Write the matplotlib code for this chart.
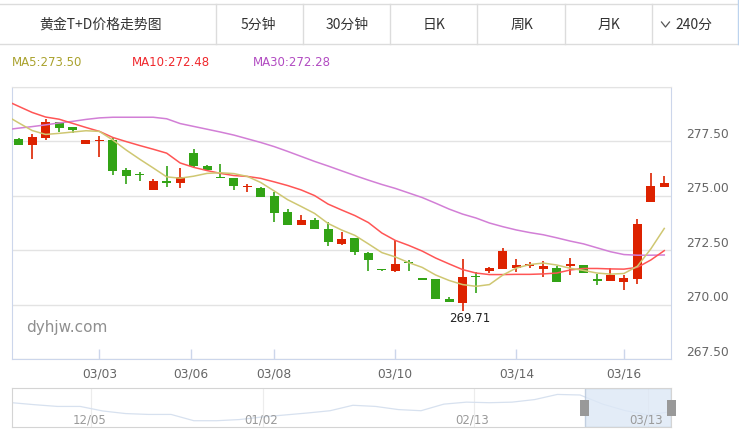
import numpy as np
import matplotlib.pyplot as plt
from matplotlib.transforms import offset_copy
from matplotlib.lines import Line2D
from matplotlib.patches import Rectangle

plt.rcParams['font.family'] = ['DejaVu Sans', 'Noto Sans CJK SC']
CJK = ['Noto Sans CJK SC', 'DejaVu Sans']

# 240分 K线: 开 / 高 / 低 / 收
opens = [277.61, 277.35, 277.67, 278.38, 278.16, 277.39, 277.52, 277.56, 276.19, 275.97,
         275.28, 275.68, 275.60, 276.97, 276.37, 275.85, 275.82, 275.39, 275.36, 274.99,
         274.26, 273.67, 273.89, 273.47, 272.80, 273.06, 272.39, 271.59, 271.56, 271.94,
         271.17, 271.18, 270.26, 270.09, 271.30, 271.56, 271.64, 271.67, 271.79, 271.64,
         271.68, 271.79, 271.81, 271.18, 271.10, 271.05, 271.19, 274.73, 275.42]
highs = [277.66, 277.83, 278.53, 278.40, 278.18, 277.57, 277.75, 277.69, 276.28, 276.11,
         275.77, 276.37, 276.28, 277.15, 276.42, 276.46, 275.83, 275.54, 275.42, 275.17,
         274.39, 274.12, 273.99, 273.78, 273.34, 273.07, 272.40, 271.60, 272.97, 272.05,
         271.17, 271.18, 270.34, 272.10, 271.48, 271.74, 272.60, 272.08, 271.98, 271.99,
         271.76, 272.13, 271.82, 271.39, 271.68, 271.36, 273.93, 276.05, 275.91]
lows = [277.33, 276.70, 277.56, 277.93, 277.90, 277.38, 276.80, 275.97, 275.56, 275.69,
        275.27, 275.42, 275.37, 276.28, 276.19, 275.80, 275.28, 275.19, 274.95, 273.81,
        273.66, 273.66, 273.48, 272.69, 272.75, 272.28, 271.56, 271.56, 271.51, 271.56,
        271.15, 270.27, 270.11, 269.71, 270.52, 271.44, 271.63, 271.51, 271.70, 271.28,
        271.04, 271.37, 271.46, 270.91, 271.09, 270.67, 270.95, 274.72, 275.41]
closes = [277.35, 277.69, 278.39, 278.13, 278.02, 277.56, 277.56, 276.15, 275.92, 275.94,
          275.68, 275.60, 275.86, 276.38, 276.20, 275.80, 275.46, 275.45, 274.96, 274.22,
          273.67, 273.89, 273.49, 272.89, 273.01, 272.43, 272.06, 271.57, 271.87, 271.91,
          271.15, 270.27, 270.11, 271.27, 271.25, 271.68, 272.46, 271.82, 271.87, 271.77,
          271.05, 271.82, 271.47, 271.07, 271.36, 271.22, 273.69, 275.45, 275.59]

# 均线 (first value belongs to the bar just left of the window)
ma5 = [278.71, 278.35, 278.00, 277.82, 277.87, 277.93, 277.99, 277.96, 277.56, 277.10,
       276.68, 276.28, 275.87, 275.81, 275.90, 276.03, 276.06, 276.02, 275.89, 275.61,
       275.22, 274.82, 274.51, 274.19, 273.73, 273.43, 273.18, 272.79, 272.39, 272.19,
       271.93, 271.71, 271.36, 271.11, 270.92, 270.84, 270.92, 271.36, 271.68, 271.84,
       271.91, 271.82, 271.67, 271.57, 271.45, 271.40, 271.43, 271.76, 272.56, 273.50]
ma10 = [279.39, 279.11, 278.83, 278.62, 278.52, 278.33, 278.14, 277.96, 277.68, 277.49,
        277.31, 277.14, 276.96, 276.51, 276.31, 276.16, 276.03, 275.93, 275.89, 275.80,
        275.64, 275.47, 275.27, 275.01, 274.62, 274.35, 274.09, 273.77, 273.29, 272.95,
        272.72, 272.46, 272.14, 271.87, 271.61, 271.45, 271.38, 271.38, 271.39, 271.39,
        271.41, 271.45, 271.59, 271.66, 271.66, 271.64, 271.63, 271.71, 272.05, 272.48]
ma30 = [278.03, 278.11, 278.18, 278.26, 278.35, 278.42, 278.51, 278.58, 278.61, 278.61,
        278.61, 278.61, 278.54, 278.32, 278.19, 278.06, 277.93, 277.79, 277.62, 277.45,
        277.26, 277.04, 276.81, 276.58, 276.37, 276.15, 275.93, 275.72, 275.52, 275.34,
        275.13, 274.92, 274.66, 274.39, 274.16, 273.98, 273.75, 273.58, 273.43, 273.31,
        273.21, 273.07, 272.92, 272.79, 272.61, 272.43, 272.30, 272.27, 272.27, 272.28]

date_labels = ['03/03', '03/06', '03/08', '03/10', '03/14', '03/16']
date_pos = [6, 12.8, 19, 28, 37, 45]
y_ticks = [267.5, 270.0, 272.5, 275.0, 277.5, 280.0]

tabs = ['黄金T+D价格走势图', '5分钟', '30分钟', '日K', '周K', '月K']
ma_labels = ['MA5:273.50', 'MA10:272.48', 'MA30:272.28']

# 缩略图 (dataZoom) 走势
overview = [275.3, 274.6, 274.0, 274.0, 272.4, 271.5, 271.2, 271.2, 269.0, 269.0,
            269.4, 270.3, 271.0, 271.7, 272.5, 274.4, 274.0, 272.9, 272.5, 274.8,
            275.5, 275.3, 275.5, 276.4, 278.2, 278.0, 274.8, 272.5, 271.0, 272.2]
overview_labels = ['12/05', '01/02', '02/13', '03/13']

RED, GREEN = '#dd2200', '#32a315'
C_MA5, C_MA10, C_MA30 = '#cfc772', '#ff5555', '#d27fd6'

W, H = 739, 432
fx = lambda px: px / W
fy = lambda py: 1 - py / H

fig = plt.figure(figsize=(W / 100, H / 100), dpi=100)

# ---- header bar
for yy in (3.5, 44):
    fig.add_artist(Line2D([0, 1], [fy(yy), fy(yy)], color='#dcdcdc', lw=1, transform=fig.transFigure))
for xx in (216, 303, 390, 477, 565, 651.5):
    fig.add_artist(Line2D([fx(xx), fx(xx)], [fy(3.5), fy(44)], color='#dcdcdc', lw=1, transform=fig.transFigure))
fig.add_artist(Line2D([fx(738), fx(738)], [fy(0), fy(44)], color='#bcd3ee', lw=1, transform=fig.transFigure))
for txt, cx in zip(tabs, [101, 258.7, 347, 434, 521.7, 609]):
    fig.text(fx(cx), fy(25), txt, ha='center', va='center', fontsize=10, color='#333333', family=CJK)
# chevron of the drop-down
fig.add_artist(Line2D([fx(661.5), fx(665.5), fx(669.5)], [fy(22), fy(27), fy(22)],
                      color='#555555', lw=0.9, transform=fig.transFigure))
fig.text(fx(694), fy(25), '240分', ha='center', va='center', fontsize=10, color='#333333', family=CJK)

# ---- MA legend
for txt, lx, col in zip(ma_labels, [12, 132, 252.6], ['#aaa22e', '#f0282d', '#b24cc2']):
    fig.text(fx(lx), fy(63), txt, ha='left', va='center', fontsize=8.5, color=col)

# ---- main K-line axes
ax = fig.add_axes([fx(12), fy(359), (671 - 12) / W, (359 - 87) / H])
idx = np.arange(len(opens))
o, h, l, c = map(np.array, (opens, highs, lows, closes))
up = c >= o
cols = np.where(up, RED, GREEN)
ax.vlines(idx, l, h, colors=cols, lw=1.2, zorder=2)
body_h = np.maximum(np.abs(c - o), 0.06)
ax.bar(idx, body_h, bottom=np.minimum(o, c), width=0.67, color=cols, linewidth=0, zorder=3)

ma_x = np.arange(-1, len(opens))
ax.plot(ma_x, ma30, color=C_MA30, lw=1.1, zorder=4)
ax.plot(ma_x, ma10, color=C_MA10, lw=1.1, zorder=4)
ax.plot(ma_x, ma5, color=C_MA5, lw=1.1, zorder=4)

ax.set_xlim(-0.5, len(opens) - 0.5)
ax.set_ylim(267.5, 280.0)
ax.set_yticks(y_ticks)
ax.set_yticklabels([])
ax.tick_params(axis='y', length=0)
ax.grid(axis='y', color='#e3e3e3', lw=1)
ax.set_axisbelow(True)
ax.set_xticks(date_pos)
ax.set_xticklabels(date_labels, fontsize=8.8, color='#666666')
ax.tick_params(axis='x', direction='in', length=7, width=1, color='#ccd6eb', pad=6)
for side in ('left', 'bottom', 'right'):
    ax.spines[side].set_color('#ccd6eb')
ax.spines['top'].set_color('#e3e3e3')

lab_tr = offset_copy(ax.get_yaxis_transform(), fig=fig, x=15, y=7, units='dots')
for v in y_ticks[:-1]:
    ax.text(1.0, v, f'{v:.2f}', transform=lab_tr, ha='left', va='center',
            fontsize=8.8, color='#666666', clip_on=False)

ax.text(0.022, 0.115, 'dyhjw.com', transform=ax.transAxes, fontsize=11,
        color='#8f8f8f', ha='left', va='center')

low_i = int(np.argmin(l))
ann_tr = offset_copy(ax.transData, fig=fig, x=7, y=-8, units='dots')
ax.text(low_i, l[low_i], f'{l[low_i]:.2f}', transform=ann_tr, ha='center', va='center',
        fontsize=8.5, color='#222222')

# ---- data zoom overview
ov = fig.add_axes([fx(12), fy(427), 659 / W, 39 / H])
ov.set_xlim(0, 1)
ov.set_ylim(266.8, 280.45)
ov.set_xticks([])
ov.set_yticks([])
for s in ov.spines.values():
    s.set_color('#d4d4d4')
for gx in (0.12, 0.3816, 0.7018, 0.965):
    ov.axvline(gx, color='#ececec', lw=0.8, zorder=0)
ov.plot(np.linspace(0, 1, len(overview)), overview, color='#d7e1ef', lw=0.9, zorder=1)
ov.add_patch(Rectangle((0.8688, 0), 0.1312, 1, transform=ov.transAxes,
                       facecolor='#dde8f6', edgecolor='#b7c6da', lw=1, alpha=0.8, zorder=2))
hw = 9 / 659
for hx in (0.8688, 1.0):
    ov.add_patch(Rectangle((hx - hw / 2, 0.282), hw, 0.41, transform=ov.transAxes,
                           facecolor='#999999', edgecolor='none', clip_on=False, zorder=3))
for gx, txt in zip((0.12, 0.3816, 0.7018, 0.965), overview_labels):
    ov.text(gx - 0.003, 0.18, txt, transform=ov.transAxes, ha='center', va='center',
            fontsize=8.5, color='#9a9a9a', zorder=4)

fig.savefig('out.png', dpi=100)
